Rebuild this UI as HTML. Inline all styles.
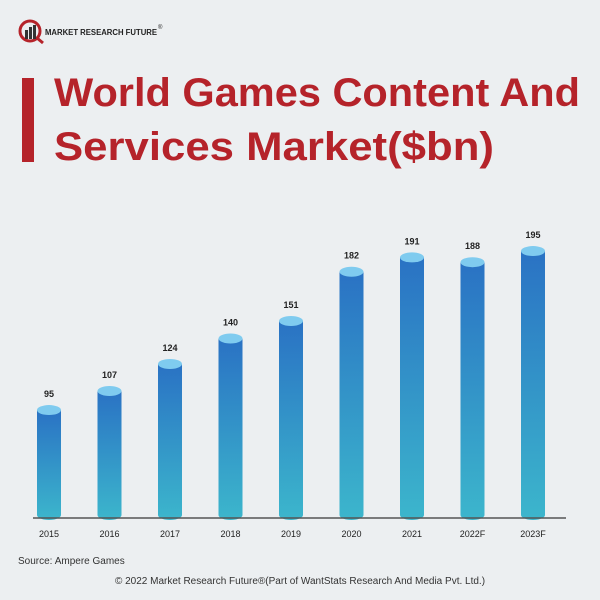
<!DOCTYPE html>
<html><head><meta charset="utf-8"><style>
body{margin:0;width:600px;height:600px;overflow:hidden;font-family:"Liberation Sans",sans-serif;}
#bg{position:absolute;left:0;top:0;width:600px;height:600px;background:#eceff1;}
</style></head><body>
<div id="bg"></div>
<svg width="600" height="600" style="position:absolute;left:0;top:0">
<defs>
<linearGradient id="g" x1="0" y1="0" x2="0" y2="1"><stop offset="0" stop-color="#2a72c4"/><stop offset="1" stop-color="#3cb6cc"/></linearGradient>
</defs>
<g>
<circle cx="30" cy="31" r="10" fill="none" stroke="#b5232a" stroke-width="3"/>
<rect x="25" y="30" width="3" height="9" fill="#333"/><rect x="29" y="27" width="3" height="12" fill="#333"/><rect x="33" y="25" width="3" height="14" fill="#333"/>
<line x1="37" y1="38" x2="43" y2="43" stroke="#b5232a" stroke-width="3"/>
<text x="45" y="35" font-size="8" font-weight="bold" fill="#222" textLength="112" lengthAdjust="spacingAndGlyphs">MARKET RESEARCH FUTURE</text>
<text x="158" y="29" font-size="6" fill="#222">®</text>
</g>
<rect x="22" y="78" width="12" height="84" fill="#b5232a"/>
<text x="54" y="106" font-size="40" font-weight="bold" fill="#b5232a" textLength="526" lengthAdjust="spacingAndGlyphs">World Games Content And</text>
<text x="54" y="160" font-size="40" font-weight="bold" fill="#b5232a" textLength="440" lengthAdjust="spacingAndGlyphs">Services Market($bn)</text>
<g id="bars"></g>
<line x1="33" y1="518" x2="566" y2="518" stroke="#555" stroke-width="1.5"/>
<text x="18" y="564" font-size="10" fill="#333">Source: Ampere Games</text>
<text x="300" y="584" font-size="10" fill="#333" text-anchor="middle">© 2022 Market Research Future®(Part of WantStats Research And Media Pvt. Ltd.)</text>
</svg>
<script>
const categories=["2015","2016","2017","2018","2019","2020","2021","2022F","2023F"];
const values=[95,107,124,140,151,182,191,188,195];
const valueLabels=["95","107","124","140","151","182","191","188","195"];
const ns="http://www.w3.org/2000/svg";
function xScale(i){return 49+i*60.5;}
function yScale(v){return 515-(v-29)*1.59;}
const g=document.getElementById('bars');
function mk(t,a){const e=document.createElementNS(ns,t);for(const k in a)e.setAttribute(k,a[k]);g.appendChild(e);return e;}
values.forEach((v,i)=>{
 const cx=xScale(i),top=yScale(v),bot=515,w=24,ry=5;
 const p=mk('path',{d:`M${cx-w/2},${top} L${cx-w/2},${bot} A${w/2},${ry} 0 0 0 ${cx+w/2},${bot} L${cx+w/2},${top} Z`,fill:'url(#g)'});
 
 
 const c=mk('ellipse',{cx:cx,cy:top,rx:w/2,ry:ry,fill:'#7fcbef'});
 
 
 const t=mk('text',{x:cx,y:top-13,'font-size':9,'font-weight':'bold',fill:'#222','text-anchor':'middle'});
 t.textContent=valueLabels[i];
 
 
 const l=mk('text',{x:cx,y:537,'font-size':9,fill:'#222','text-anchor':'middle'});
 l.textContent=categories[i];
 
 
});
</script>
</body></html>
